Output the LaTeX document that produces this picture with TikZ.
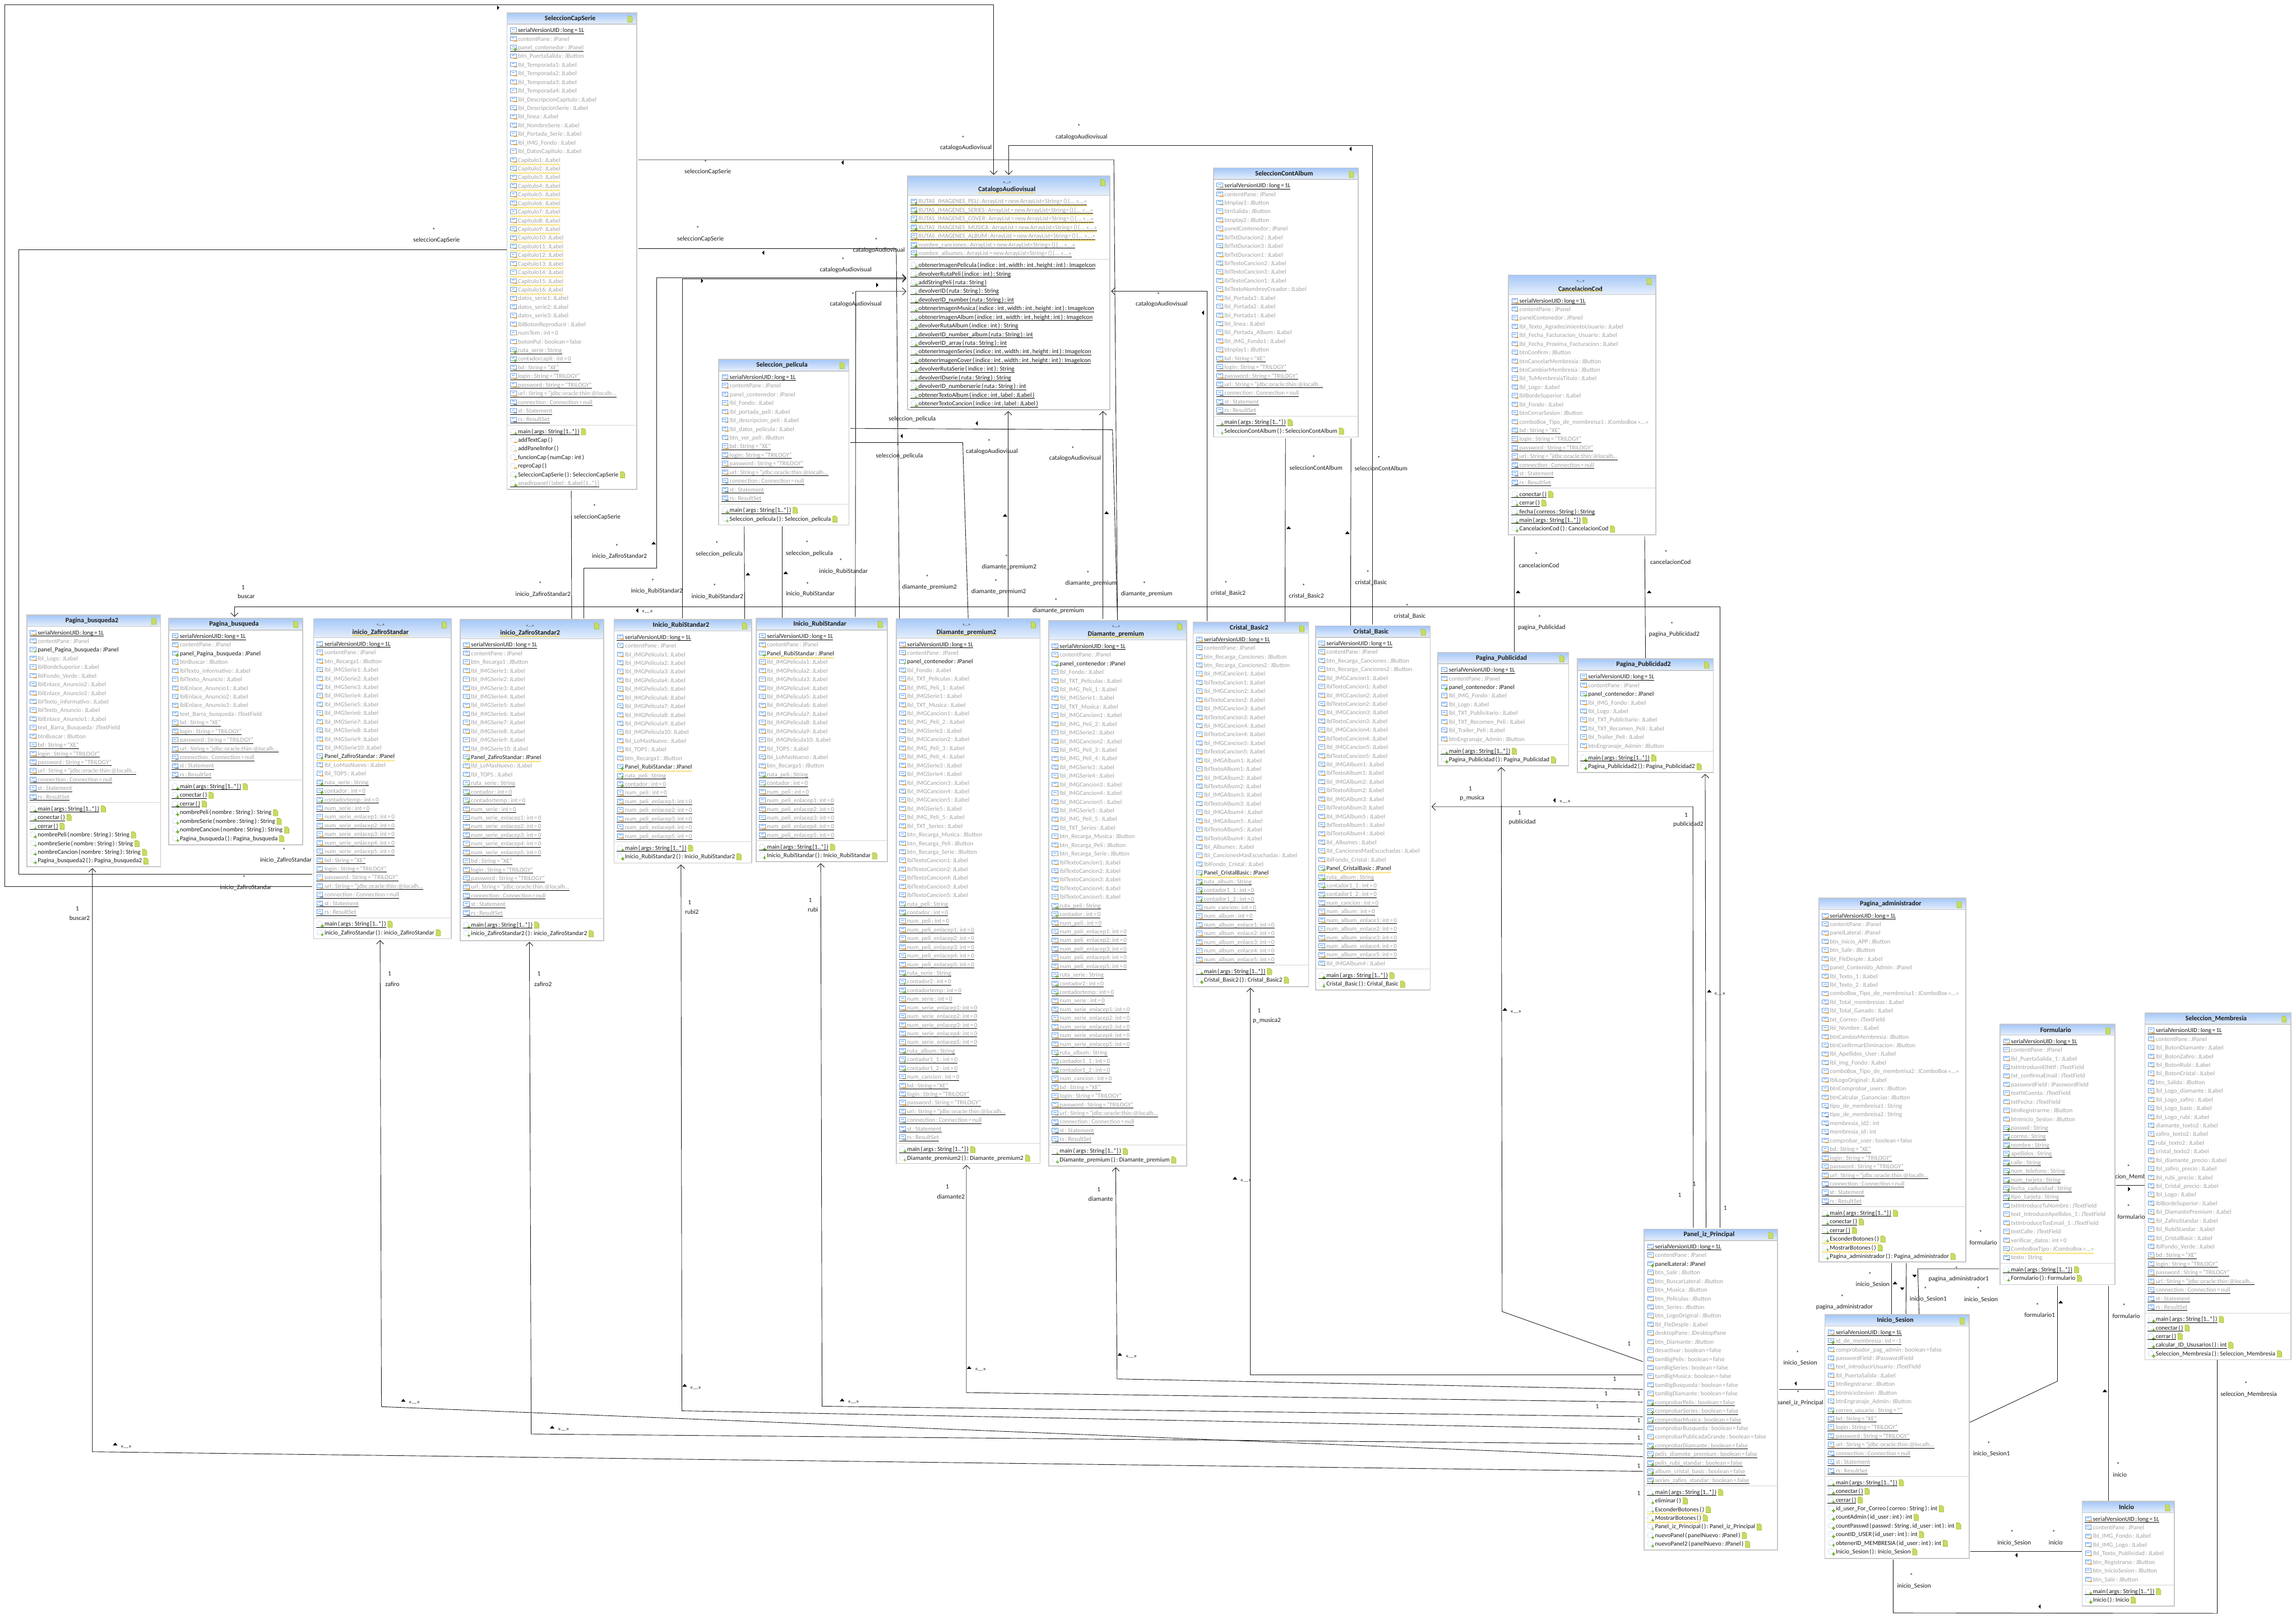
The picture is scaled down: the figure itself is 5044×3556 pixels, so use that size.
\documentclass[tikz,border=0pt]{standalone}
\usepackage{fontspec}
\setmainfont{Carlito}
\usetikzlibrary{arrows.meta,decorations.pathmorphing}
\catcode`\_=12
\definecolor{colg}{HTML}{A2A2A2}
\definecolor{colk}{HTML}{1A1A1A}
\definecolor{hdt}{HTML}{A6C8F8}
\definecolor{hdb}{HTML}{E6EFFB}
\definecolor{bord}{HTML}{C8C8C8}
\definecolor{icbl}{HTML}{5E9BE6}
\definecolor{icor}{HTML}{EFA030}
\definecolor{icgr}{HTML}{74B030}
\definecolor{docf}{HTML}{C8DC64}
\definecolor{docd}{HTML}{A0C030}
\definecolor{wavy}{HTML}{F5C400}
\pgfdeclarelayer{back}\pgfsetlayers{back,main}
\tikzset{
 ubox/.style={draw=bord,fill=white,line width=1pt,anchor=north west,inner sep=0pt,outer sep=0pt},
 rowt/.style={anchor=base west,inner sep=0pt,outer sep=0pt,font=\fontsize{6.8pt}{8pt}\selectfont},
 tit/.style={inner sep=0pt,font=\fontsize{7.4pt}{8pt}\selectfont\bfseries,text=colk},
 ster/.style={inner sep=0pt,font=\fontsize{5pt}{6pt}\selectfont,text=colk},
 ul/.style={draw=black,line width=.55pt},
 wv/.style={draw=wavy,line width=.4pt,decorate,decoration={snake,amplitude=.7pt,segment length=3pt}},
 sepl/.style={draw=bord!80,line width=.5pt},
 icb/.style={draw=icbl,line width=.4pt},
 labl/.style={inner sep=0pt,font=\fontsize{7pt}{8pt}\selectfont,text=colk},
 conn/.style={draw=colk,line width=.55pt,shorten <=1.5pt},
 arr/.style={-{Straight Barb[length=4pt,width=8pt,line width=.55pt]},shorten >=1.5pt},
 docs/.style={fill=docf,draw=docd,line width=.4pt}
}
\newcount\rowY \newcount\rowN \newcount\labN
\def\curL{0}\def\curR{0}
\newcommand\docicon[1]{\path[docs,shift={(#1)}] (4,-7)--(10,-7)--(14,-3)--(14,7)--(4,7)--cycle;}
\newcommand\iconm[2]{\draw[icb] (#1,#2-5) rectangle (#1+13,#2+4);\draw[icb] (#1+3,#2-2)--(#1+10,#2-2);\fill[icor] (#1+7,#2+4) rectangle (#1+15,#2+6);}
\newcommand\iconp[2]{\draw[icb] (#1,#2-5) rectangle (#1+13,#2+4);\draw[icb] (#1+3,#2-2)--(#1+10,#2-2);\fill[icgr] (#1+10,#2+1) rectangle (#1+12,#2+8);\fill[icgr] (#1+7,#2+3.5) rectangle (#1+15,#2+5.5);}
\newcommand\icont[2]{\draw[icb] (#1,#2-5) rectangle (#1+13,#2+4);\draw[icb] (#1+3,#2-2)--(#1+10,#2-2);\draw[draw=colk,line width=.35pt] (#1+7,#2+6)--(#1+10,#2+5)--(#1+12,#2+6)--(#1+15,#2+5);}
\newcommand\iconO[2]{\draw[icb,densely dotted] (#1+6,#2) circle [radius=3pt];\fill[icgr] (#1+11,#2+2) rectangle (#1+13,#2+9);\fill[icgr] (#1+8.5,#2+4.5) rectangle (#1+15.5,#2+6.5);}
\newcommand\iconQ[2]{\draw[icb,densely dotted] (#1+6,#2) circle [radius=3pt];\fill[icor] (#1+8,#2+4.5) rectangle (#1+15,#2+6.5);}
\def\decon{}
\def\decou{\draw[ul] (\xu,\yu)--(\nn.east |- 0,\yu);}
\def\decow{\draw[wv] (\xu,\yw)--(\nn.east |- 0,\yw);}
\def\decox{\decou\decow}
\newcommand\R[4]{%
 \global\advance\rowN 1\relax
 \edef\nn{r\the\rowN}%
 \edef\xt{\the\numexpr\curL+24\relax}\edef\xi{\the\numexpr\curL+7\relax}\edef\xu{\the\numexpr\curL+6\relax}%
 \edef\yc{\the\rowY}\edef\yb{\the\numexpr\rowY+5\relax}\edef\yu{\the\numexpr\rowY+8\relax}\edef\yw{\the\numexpr\rowY+10\relax}%
 \node[rowt,text=col#1] (\nn) at (\xt,\yb) {\spaceskip=.13em\relax #4};
 \csname icon#2\endcsname{\xi}{\yc}%
 \csname deco#3\endcsname
 \global\advance\rowY 19\relax}
\newcommand\Dc{\docicon{\nn.east}}
\newcommand\fa[1]{\R{g}{m}{n}{#1}}
\newcommand\fb[1]{\R{g}{m}{u}{#1}}
\newcommand\fc[1]{\R{g}{p}{u}{#1}}
\newcommand\fd[1]{\R{g}{p}{n}{#1}}
\newcommand\ftt[1]{\R{g}{t}{u}{#1}}
\newcommand\fn[1]{\R{g}{t}{n}{#1}}
\newcommand\fk[1]{\R{k}{p}{n}{#1}}
\newcommand\fw[1]{\R{k}{p}{w}{#1}}
\newcommand\fy[1]{\R{g}{m}{w}{#1}}
\newcommand\fz[1]{\R{g}{p}{x}{#1}}
\newcommand\fq[1]{\R{g}{m}{x}{#1}}
\newcommand\ok[1]{\R{k}{O}{u}{#1}\Dc}
\newcommand\on[1]{\R{k}{O}{n}{#1}\Dc}
\newcommand\ow[1]{\R{k}{O}{w}{#1}\Dc}
\newcommand\ou[1]{\R{k}{O}{u}{#1}}
\newcommand\ox[1]{\R{k}{Q}{n}{#1}}
\newcommand\oz[1]{\R{g}{O}{u}{#1}}
\newcommand\SV{\R{k}{m}{u}{serialVersionUID : long = 1L}}
\newcommand\CP{\fa{contentPane : JPanel}}
\newcommand\DB{\fb{bd : String = "XE"}\fb{login : String = "TRILOGY"}\fb{password : String = "TRILOGY"}\fb{url : String = "jdbc:oracle:thin:@localh...}\ftt{connection : Connection = null}\ftt{st : Statement}\ftt{rs : ResultSet}}
\newcommand\Sep{\edef\ys{\the\numexpr\rowY-6\relax}\draw[sepl] (\curL,\ys)--(\curR,\ys);\global\advance\rowY 7\relax}
\newcommand\Mn{\ok{main ( args : String [1..*] )}}
% name, L, T, R, B, H, title, stereotype flag
\newcommand\UC[8]{%
 \xdef\curL{#2}\xdef\curR{#4}\global\rowY=\numexpr#6+13\relax
 \node[ubox,minimum width={(#4-#2)*0.5pt},minimum height={(#5-#3)*0.5pt}] (#1) at (#2,#3) {};
 \shade[top color=hdt,bottom color=hdb] (#2+1,#3+1) rectangle (#4-1,#6);
 \draw[draw=bord,line width=1pt] (#2,#3) rectangle (#4,#5);
 \draw[draw=bord,line width=.9pt] (#2,#6)--(#4,#6);
 \docicon{#4-24,#3+14}
 \if#81\relax
  \node[ster] (#1st) at ({(#2+#4)/2-4},#3+14) {«...»};
  \node[tit] (#1tt) at ({(#2+#4)/2-4},#3+30) {#7};
  \draw[wv] (#1tt.south west)--(#1tt.south east);
 \else
  \node[tit] (#1tt) at ({(#2+#4)/2-4},{(#3+#6)/2}) {#7};
 \fi}
\newcommand\lab[3]{\global\advance\labN 1\relax\node[labl] (l\the\labN) at (#1,#2) {#3};}
\newcommand\trL[2]{\fill[black] (#1-3,#2)--(#1+2,#2-5)--(#1+2,#2+5)--cycle;}
\newcommand\trR[2]{\fill[black] (#1+3,#2)--(#1-2,#2-5)--(#1-2,#2+5)--cycle;}
\newcommand\trU[2]{\fill[black] (#1,#2-3)--(#1-5,#2+3)--(#1+5,#2+3)--cycle;}
\newcommand\trD[2]{\fill[black] (#1,#2+3)--(#1-5,#2-3)--(#1+5,#2-3)--cycle;}
\newcommand\SL[5]{\lab{#1}{#2}{*}\lab{#3}{#4}{#5}}
\newcommand\DiaRows[1]{\SV\CP\fk{panel_contenedor : JPanel}\fa{lbl_Fondo : JLabel}\fa{lbl_TXT_Peliculas : JLabel}\fa{lbl_IMG_Peli_1 : JLabel}\fa{lbl_IMGSerie1 : JLabel}\fa{lbl_TXT_Musica : JLabel}\fa{lbl_IMGCancion1 : JLabel}\fa{lbl_IMG_Peli_2 : JLabel}\fa{lbl_IMGSerie2 : JLabel}\fa{lbl_IMGCancion2 : JLabel}\fa{lbl_IMG_Peli_3 : JLabel}\fa{lbl_IMG_Peli_4 : JLabel}\fa{lbl_IMGSerie3 : JLabel}\fa{lbl_IMGSerie4 : JLabel}\fa{lbl_IMGCancion3 : JLabel}\fa{lbl_IMGCancion4 : JLabel}\fa{lbl_IMGCancion5 : JLabel}\fa{lbl_IMGSerie5 : JLabel}\fa{lbl_IMG_Peli_5 : JLabel}\fa{lbl_TXT_Series : JLabel}\fa{btn_Recarga_Musica : JButton}\fa{btn_Recarga_Peli : JButton}\fa{btn_Recarga_Serie : JButton}%
 \foreach \i in {#1}{\fa{lblTextoCancion\i : JLabel}}%
 \fc{ruta_peli : String}\fc{contador : int = 0}\fb{num_peli : int = 0}\foreach \i in {1,...,5}{\fb{num_peli_enlacep\i : int = 0}}%
 \fc{ruta_serie : String}\fc{contador2 : int = 0}\fc{contadortemp : int = 0}\fb{num_serie : int = 0}\foreach \i in {1,...,5}{\fb{num_serie_enlacep\i : int = 0}}%
 \fc{ruta_album : String}\fc{contador1_1 : int = 0}\fc{contador1_2 : int = 0}\fb{num_cancion : int = 0}\DB\Sep\Mn}
\newcommand\ZafRows{\SV\CP\fa{btn_Recarga1 : JButton}\foreach \i in {1,...,10}{\fa{lbl_IMGSerie\i : JLabel}}\fw{Panel_ZafiroStandar : JPanel}\fa{lbl_LoMasNuevo : JLabel}\fa{lbl_TOP5 : JLabel}\fc{ruta_serie : String}\fc{contador : int = 0}\fc{contadortemp : int = 0}\fb{num_serie : int = 0}\foreach \i in {1,...,5}{\fb{num_serie_enlacep\i : int = 0}}\DB\Sep\Mn}
\newcommand\PeliNums{\fc{ruta_peli : String}\fc{contador : int = 0}\fb{num_peli : int = 0}\foreach \i in {1,...,5}{\fb{num_peli_enlacep\i : int = 0}}\Sep\Mn}
\newcommand\CriHead{\SV\CP\fa{btn_Recarga_Canciones : JButton}\fa{btn_Recarga_Canciones2 : JButton}\foreach \i in {1,...,5}{\fa{lbl_IMGCancion\i : JLabel}\fa{lblTextoCancion\i : JLabel}}\foreach \i in {1,2,3}{\fa{lbl_IMGAlbum\i : JLabel}\fa{lblTextoAlbum\i : JLabel}}}
\newcommand\CriTail{\fa{lbl_IMGAlbum5 : JLabel}\fa{lblTextoAlbum5 : JLabel}\fa{lblTextoAlbum4 : JLabel}\fa{lbl_Albumes : JLabel}\fa{lbl_CancionesMasEscuchadas : JLabel}\fa{lblFondo_Cristal : JLabel}\fw{Panel_CristalBasic : JPanel}\fc{ruta_album : String}\fc{contador1_1 : int = 0}\fc{contador1_2 : int = 0}\fb{num_cancion : int = 0}\fb{num_album : int = 0}\foreach \i in {1,...,5}{\fb{num_album_enlace\i : int = 0}}}
\newcommand\PubRows{\SV\CP\fk{panel_contenedor : JPanel}\fa{lbl_IMG_Fondo : JLabel}\fa{lbl_Logo : JLabel}\fa{lbl_TXT_Publicitario : JLabel}\fa{lbl_TXT_Recomen_Peli : JLabel}\fa{lbl_Trailer_Peli : JLabel}\fa{btnEngranaje_Admin : JButton}\Sep\Mn}
\begin{document}
\begin{tikzpicture}[x=0.5pt,y=-0.5pt]
\useasboundingbox (0,0) rectangle (5044,3556);

\UC{cap}{1114}{28}{1399}{1075}{53}{SeleccionCapSerie}{0}
\SV\CP\fc{panel_contenedor : JPanel}\fa{btn_PuertaSalida : JButton}\foreach \i in {1,...,4}{\fa{lbl_Temporada\i : JLabel}}\fa{lbl_DescripcionCapitulo : JLabel}\fa{lbl_DescripcionSerie : JLabel}\fa{lbl_linea : JLabel}\fa{lbl_NombreSerie : JLabel}\fa{lbl_Portada_Serie : JLabel}\fa{lbl_IMG_Fondo : JLabel}\fa{lbl_DatosCapitulo : JLabel}\foreach \i in {1,...,16}{\fy{Capitulo\i : JLabel}}\foreach \i in {1,2,3}{\fa{datos_serie\i : JLabel}}\fa{lblBotonReproducir : JLabel}\fa{numTem : int = 0}\fa{botonPul : boolean = false}\fc{ruta_serie : String}\fc{contadorcapit : int = 0}\DB\Sep\Mn\ox{addTextCap ( )}\ox{addPanelInfor ( )}\ox{funcionCap ( numCap : int )}\ox{reproCap ( )}\on{SeleccionCapSerie ( ) : SeleccionCapSerie}\oz{anadirpanel ( label : JLabel [1..*] )}

\UC{cat}{1994}{387}{2438}{900}{429}{CatalogoAudiovisual}{1}
\fz{RUTAS_IMAGENES_PELI : ArrayList = new ArrayList<String> () \{... «...»}\fz{RUTAS_IMAGENES_SERIES : ArrayList = new ArrayList<String> () \{... «...»}\fz{RUTAS_IMAGENES_COVER : ArrayList = new ArrayList<String> () \{... «...»}\fz{RUTAS_IMAGENES_MUSICA : ArrayList = new ArrayList<String> () \{... «...»}\fq{RUTAS_IMAGENES_ALBUM : ArrayList = new ArrayList<String> () \{... «...»}\fc{nombre_canciones : ArrayList = new ArrayList<String> () \{... «...»}\fc{nombre_albumes : ArrayList = new ArrayList<String> () \{... «...»}\Sep
\ou{obtenerImagenPelicula ( indice : int , width : int , height : int ) : ImageIcon}\ou{devolverRutaPeli ( indice : int ) : String}\ou{addStringPeli ( ruta : String )}\ou{devolverID ( ruta : String ) : String}\ou{devolverID_number ( ruta : String ) : int}\ou{obtenerImagenMusica ( indice : int , width : int , height : int ) : ImageIcon}\ou{obtenerImagenAlbum ( indice : int , width : int , height : int ) : ImageIcon}\ou{devolverRutaAlbum ( indice : int ) : String}\ou{devolverID_number_album ( ruta : String ) : int}\ou{devolverID_array ( ruta : String ) : int}\ou{obtenerImagenSeries ( indice : int , width : int , height : int ) : ImageIcon}\ou{obtenerImagenCover ( indice : int , width : int , height : int ) : ImageIcon}\ou{devolverRutaSerie ( indice : int ) : String}\ou{devolverIDserie ( ruta : String ) : String}\ou{devolverID_numberserie ( ruta : String ) : int}\ou{obtenerTextoAlbum ( indice : int , label : JLabel )}\ou{obtenerTextoCancion ( indice : int , label : JLabel )}

\UC{peli}{1579}{789}{1865}{1153}{815}{Seleccion_pelicula}{0}
\SV\CP\fa{panel_contenedor : JPanel}\fa{lbl_Fondo : JLabel}\fa{lbl_portada_peli : JLabel}\fa{lbl_descripcion_peli : JLabel}\fa{lbl_datos_pelicula : JLabel}\fa{btn_ver_peli : JButton}\DB\Sep\Mn\on{Seleccion_pelicula ( ) : Seleccion_pelicula}

\UC{album}{2666}{369}{2984}{960}{394}{SeleccionContAlbum}{0}
\SV\CP\fa{btnplay3 : JButton}\fa{btnSalida : JButton}\fa{btnplay2 : JButton}\fa{panelContenedor : JPanel}\fa{lblTxtDuracion2 : JLabel}\fa{lblTxtDuracion3 : JLabel}\fa{lblTxtDuracion1 : JLabel}\fa{lblTextoCancion2 : JLabel}\fa{lblTextoCancion3 : JLabel}\fa{lblTextoCancion1 : JLabel}\fa{lblTextoNombreyCreador : JLabel}\fa{lbl_Portada3 : JLabel}\fa{lbl_Portada2 : JLabel}\fa{lbl_Portada1 : JLabel}\fa{lbl_linea : JLabel}\fa{lbl_Portada_Album : JLabel}\fa{lbl_IMG_Fondo1 : JLabel}\fa{btnplay1 : JButton}\DB\Sep\Mn\on{SeleccionContAlbum ( ) : SeleccionContAlbum}

\UC{canc}{3314}{604}{3638}{1175}{647}{CancelacionCod}{1}
\SV\CP\fa{panelContenedor : JPanel}\fa{lbl_Texto_AgradecimientoUsuario : JLabel}\fa{lbl_Fecha_Facturacion_Usuario : JLabel}\fa{lbl_Fecha_Proxima_Facturacion : JLabel}\fa{btnConfirm : JButton}\fa{btnCancelarMembresía : JButton}\fa{btnCambiarMembresía : JButton}\fa{lbl_TuMembresiaTitulo : JLabel}\fa{lbl_Logo : JLabel}\fa{lblBordeSuperior : JLabel}\fa{lbl_Fondo : JLabel}\fa{btnCerrarSesion : JButton}\fa{comboBox_Tipo_de_membreisa1 : JComboBox «...»}\DB\Sep\ok{conectar ( )}\ok{cerrar ( )}\ou{fecha ( correos : String ) : String}\Mn\on{CancelacionCod ( ) : CancelacionCod}

\UC{bustwo}{59}{1351}{353}{1904}{1376}{Pagina_busqueda2}{0}
\SV\CP\fk{panel_Pagina_busqueda : JPanel}\fa{lbl_Logo : JLabel}\fa{lblBordeSuperior : JLabel}\fa{lblFondo_Verde : JLabel}\fa{lblEnlace_Anuncio2 : JLabel}\fa{lblEnlace_Anuncio3 : JLabel}\fa{lblTexto_informativo : JLabel}\fa{lblTexto_Anuncio : JLabel}\fa{lblEnlace_Anuncio1 : JLabel}\fa{text_Barra_Busqueda : JTextField}\fa{btnBuscar : JButton}\DB\Sep\Mn\ok{conectar ( )}\ok{cerrar ( )}\on{nombrePeli ( nombre : String ) : String}\on{nombreSerie ( nombre : String ) : String}\on{nombreCancion ( nombre : String ) : String}\on{Pagina_busqueda2 ( ) : Pagina_busqueda2}

\UC{bus}{371}{1358}{665}{1856}{1384}{Pagina_busqueda}{0}
\SV\CP\fk{panel_Pagina_busqueda : JPanel}\fa{btnBuscar : JButton}\fa{lblTexto_informativo : JLabel}\fa{lblTexto_Anuncio : JLabel}\fa{lblEnlace_Anuncio1 : JLabel}\fa{lblEnlace_Anuncio2 : JLabel}\fa{lblEnlace_Anuncio3 : JLabel}\fa{text_Barra_busqueda : JTextField}\DB\Sep\Mn\ok{conectar ( )}\ok{cerrar ( )}\on{nombrePeli ( nombre : String ) : String}\on{nombreSerie ( nombre : String ) : String}\on{nombreCancion ( nombre : String ) : String}\on{Pagina_busqueda ( ) : Pagina_busqueda}

\UC{zaf}{689}{1359}{991}{2062}{1401}{inicio_ZafiroStandar}{1}
\ZafRows\on{inicio_ZafiroStandar ( ) : inicio_ZafiroStandar}

\UC{zaftwo}{1011}{1361}{1326}{2066}{1403}{inicio_ZafiroStandar2}{1}
\ZafRows\on{inicio_ZafiroStandar2 ( ) : inicio_ZafiroStandar2}

\UC{rubtwo}{1349}{1361}{1651}{1896}{1386}{Inicio_RubiStandar2}{0}
\SV\CP\foreach \i in {1,...,10}{\fa{lbl_IMGPelicula\i : JLabel}}\fa{lbl_LoMasNuevo : JLabel}\fa{lbl_TOP5 : JLabel}\fa{btn_Recarga1 : JButton}\fw{Panel_RubiStandar : JPanel}\PeliNums\on{Inicio_RubiStandar2 ( ) : Inicio_RubiStandar2}

\UC{rub}{1661}{1358}{1949}{1893}{1384}{Inicio_RubiStandar}{0}
\SV\CP\fw{Panel_RubiStandar : JPanel}\foreach \i in {1,...,10}{\fa{lbl_IMGPelicula\i : JLabel}}\fa{lbl_TOP5 : JLabel}\fa{lbl_LoMasNuevo : JLabel}\fa{btn_Recarga1 : JButton}\PeliNums\on{Inicio_RubiStandar ( ) : Inicio_RubiStandar}

\UC{diatwo}{1969}{1359}{2285}{2556}{1402}{Diamante_premium2}{1}
\DiaRows{1,2,4,3,5}\on{Diamante_premium2 ( ) : Diamante_premium2}

\UC{dia}{2304}{1363}{2607}{2561}{1406}{Diamante_premium}{1}
\DiaRows{1,2,3,4,5}\on{Diamante_premium ( ) : Diamante_premium}

\UC{critwo}{2621}{1367}{2875}{2167}{1391}{Cristal_Basic2}{0}
\CriHead\fa{lbl_IMGAlbum4 : JLabel}\CriTail\Sep\Mn\on{Cristal_Basic2 ( ) : Cristal_Basic2}

\UC{cri}{2890}{1375}{3142}{2175}{1400}{Cristal_Basic}{0}
\CriHead\CriTail\fa{lbl_IMGAlbum4 : JLabel}\Sep\Mn\on{Cristal_Basic ( ) : Cristal_Basic}

\UC{pub}{3159}{1433}{3446}{1682}{1458}{Pagina_Publicidad}{0}
\PubRows\on{Pagina_Publicidad ( ) : Pagina_Publicidad}

\UC{pubtwo}{3465}{1447}{3764}{1697}{1473}{Pagina_Publicidad2}{0}
\PubRows\on{Pagina_Publicidad2 ( ) : Pagina_Publicidad2}

\UC{admin}{3996}{1973}{4319}{2772}{1998}{Pagina_administrador}{0}
\SV\CP\fa{panelLateral : JPanel}\fa{btn_Inicio_APP : JButton}\fa{btn_Salir : JButton}\fa{lbl_FleDesple : JLabel}\fa{panel_Contenido_Admin : JPanel}\fa{lbl_Texto_1 : JLabel}\fa{lbl_Texto_2 : JLabel}\fa{comboBox_Tipo_de_membreisa1 : JComboBox «...»}\fa{lbl_Total_membresias : JLabel}\fa{lbl_Total_Ganado : JLabel}\fa{txt_Correo : JTextField}\fa{lbl_Nombre : JLabel}\fa{btnCambioMembresia : JButton}\fa{btnConfirmarEliminacion : JButton}\fa{lbl_Apellidos_User : JLabel}\fa{lbl_Img_Fondo : JLabel}\fa{comboBox_Tipo_de_membreisa2 : JComboBox «...»}\fa{lblLogoOriginal : JLabel}\fa{btnComprobar_users : JButton}\fa{btnCalcular_Ganancias : JButton}\fn{tipo_de_membreisa1 : String}\fn{tipo_de_membreisa2 : String}\fn{membresia_id2 : int}\fn{membresia_id : int}\fa{comprobar_user : boolean = false}\DB\Sep\Mn\ok{conectar ( )}\ok{cerrar ( )}\ow{EsconderBotones ( )}\ow{MostrarBotones ( )}\on{Pagina_administrador ( ) : Pagina_administrador}

\UC{form}{4394}{2250}{4646}{2822}{2274}{Formulario}{0}
\SV\CP\fa{lbl_PuertaSalida_1 : JLabel}\fa{txtIntroduceElNtlf : JTextField}\fa{txt_confirmaEmail : JTextField}\fa{passwordField : JPasswordField}\fa{textNCuenta : JTextField}\fa{txtFecha : JTextField}\fa{btnRegistrarme : JButton}\fa{btnInicio_Sesion : JButton}\fc{passwd : String}\fc{correo : String}\fc{nombre : String}\fc{apellidos : String}\fc{calle : String}\fc{num_telefono : String}\fc{num_tarjeta : String}\fc{fecha_caducidad : String}\fc{tipo_tarjeta : String}\fa{txtIntroduceTuNombre : JTextField}\fa{text_IntroduceApellidos_1 : JTextField}\fa{txtIntroduceTusEmail_1 : JTextField}\fa{textCalle : JTextField}\fa{verificar_datos : int = 0}\fy{ComboBoxTipo : JComboBox «...»}\fn{texto : String}\Sep\Mn\on{Formulario ( ) : Formulario}

\UC{memb}{4712}{2225}{5033}{2987}{2250}{Seleccion_Membresia}{0}
\SV\CP\fa{lbl_BotonDiamante : JLabel}\fa{lbl_BotonZafiro : JLabel}\fa{lbl_BotonRubi : JLabel}\fa{lbl_BotonCristal : JLabel}\fa{btn_Salida : JButton}\fa{lbl_Logo_diamante : JLabel}\fa{lbl_Logo_zafiro : JLabel}\fa{lbl_Logo_basic : JLabel}\fa{lbl_Logo_rubi : JLabel}\fa{diamante_texto2 : JLabel}\fa{zafiro_texto2 : JLabel}\fa{rubi_texto2 : JLabel}\fa{cristal_texto2 : JLabel}\fa{lbl_diamante_precio : JLabel}\fa{lbl_zafiro_precio : JLabel}\fa{lbl_rubi_precio : JLabel}\fa{lbl_Cristal_precio : JLabel}\fa{lbl_Logo : JLabel}\fa{lblBordeSuperior : JLabel}\fa{lbl_DiamantePremium : JLabel}\fa{lbl_ZafiroStandar : JLabel}\fa{lbl_RubiStandar : JLabel}\fa{lbl_CristalBasic : JLabel}\fa{lblFondo_Verde : JLabel}\DB\Sep\Mn\ok{conectar ( )}\ok{cerrar ( )}\ok{calcular_ID_Ususarios ( ) : int}\on{Seleccion_Membresia ( ) : Seleccion_Membresia}

\UC{panel}{3612}{2700}{3905}{3405}{2725}{Panel_iz_Principal}{0}
\SV\CP\fk{panelLateral : JPanel}\fa{btn_Salir : JButton}\fa{btn_BuscarLateral : JButton}\fa{btn_Musica : JButton}\fa{btn_Peliculas : JButton}\fa{btn_Series : JButton}\fa{btn_LogoOriginal : JButton}\fa{lbl_FleDesple : JLabel}\fa{desktopPane : JDesktopPane}\fa{btn_Diamante : JButton}\fa{desactivar : boolean = false}\fa{tamBigPelis : boolean = false}\fa{tamBigSeries : boolean = false}\fa{tamBigMusica : boolean = false}\fa{tamBigBusqueda : boolean = false}\fa{tamBigDiamante : boolean = false}\fc{comprobarPelis : boolean = false}\fc{comprobarSeries : boolean = false}\fc{comprobarMusica : boolean = false}\fa{comprobarBusqueda : boolean = false}\fa{comprobarPublicadaGrande : boolean = false}\fc{comprobarDiamante : boolean = false}\fc{pelis_diamnte_premium : boolean = false}\fc{pelis_rubi_standar : boolean = false}\fc{album_cristal_basic : boolean = false}\fc{series_zafiro_standar : boolean = false}\Sep\Mn\on{eliminar ( )}\ow{EsconderBotones ( )}\ow{MostrarBotones ( )}\on{Panel_iz_Principal ( ) : Panel_iz_Principal}\on{nuevoPanel ( panelNuevo : JPanel )}\on{nuevoPanel2 ( panelNuevo : JPanel )}

\UC{sesion}{4009}{2888}{4326}{3423}{2913}{Inicio_Sesion}{0}
\SV\fc{id_de_membresia : int = -1}\fa{comprobador_pag_admin : boolean = false}\fa{passwordField : JPasswordField}\fa{text_introducirUsuario : JTextField}\fa{lbl_PuertaSalida : JLabel}\fa{btnRegistrarse : JButton}\fa{btnInicioSesion : JButton}\fa{btnEngranaje_Admin : JButton}\fc{correo_usuario : String = ""}\DB\Sep\Mn\ok{conectar ( )}\ok{cerrar ( )}\on{id_user_For_Correo ( correo : String ) : int}\on{countAdmin ( id_user : int ) : int}\on{countPasswd ( passwd : String , id_user : int ) : int}\on{countID_USER ( id_user : int ) : int}\on{obtenerID_MEMBRESIA ( id_user : int ) : int}\on{Inicio_Sesion ( ) : Inicio_Sesion}

\UC{ini}{4574}{3298}{4777}{3528}{3323}{Inicio}{0}
\SV\CP\fa{lbl_IMG_Fondo : JLabel}\fa{lbl_IMG_Logo : JLabel}\fa{lbl_Texto_Publicidad : JLabel}\fa{btn_Registrarse : JButton}\fa{btn_InicioSesion : JButton}\fa{btn_Salir : JButton}\Sep\Mn\on{Inicio ( ) : Inicio}

\begin{pgfonlayer}{back}
\fill[white] (0,0) rectangle (5044,3556);
% connectors
\draw[conn,arr] (zaf.west |- 0,1948)--(11,1948)--(11,10)--(2183,10)--(cat.north -| 2183,0);
\draw[conn] (zaf.west |- 0,1920)--(41,1920)--(41,549)--(cap.west |- 0,549);
\draw[conn] (cap.east |- 0,351)--(2447,351)--(dia.north -| 2455,0);
\draw[conn] (cap.east |- 0,546)--(1969,546)--(diatwo.north -| 1976,0);
\draw[conn] (cap.south -| 1255,0)--(zaftwo.north -| 1256,0);
\draw[conn,arr] (rubtwo.north -| 1499,0)--(1499,612)--(cat.west |- 0,612);
\draw[conn,arr] (zaftwo.north -| 1283,0)--(1283,1248)--(1443,1248)--(1443,610)--(cat.west |- 0,610);
\draw[conn,arr] (rub.north -| 1879,0)--(1880,640)--(cat.west |- 0,640);
\draw[conn] (peli.south -| 1635,0)--(rubtwo.north -| 1636,0);
\draw[conn] (peli.south -| 1719,0)--(rub.north -| 1719,0);
\draw[conn] (peli.east |- 0,941)--(2444,944)--(dia.north -| 2455,0);
\draw[conn] (peli.east |- 0,972)--(2115,972)--(diatwo.north -| 2127,0);
\draw[conn,arr] (diatwo.north -| 2215,0)--(cat.south -| 2215,0);
\draw[conn,arr] (dia.north -| 2423,0)--(cat.south -| 2423,0);
\draw[conn,arr] (critwo.north -| 2652,0)--(2652,640)--(cat.east |- 0,640);
\draw[conn,arr] (cri.north -| 3015,0)--(3015,320)--(2216,320)--(cat.north -| 2216,0);
\draw[conn] (album.south -| 2824,0)--(critwo.north -| 2823,0);
\draw[conn] (album.south -| 2968,0)--(cri.north -| 2967,0);
\draw[conn] (canc.south -| 3327,0)--(pub.north -| 3327,0);
\draw[conn] (canc.south -| 3613,0)--(pubtwo.north -| 3615,0);
\draw[conn,arr] (panel.north -| 3779,0)--(3779,1333)--(515,1333)--(bus.north -| 515,0);
\draw[conn,arr] (panel.north -| 3720,0)--(3719,1772)--(cri.east |- 0,1772);
\draw[conn,arr] (panel.north -| 3748,0)--(pubtwo.south -| 3746,0);
\draw[conn,arr] (panel.west |- 0,2992)--(3300,2881)--(pub.south -| 3298,0);
\draw[conn,arr] (panel.west |- 0,3020)--(2747,3020)--(critwo.south -| 2747,0);
\draw[conn,arr] (panel.west |- 0,3052)--(2454,3029)--(dia.south -| 2451,0);
\draw[conn,arr] (panel.west |- 0,3080)--(2123,3059)--(diatwo.south -| 2123,0);
\draw[conn,arr] (panel.west |- 0,3112)--(1806,3089)--(rub.south -| 1803,0);
\draw[conn,arr] (panel.west |- 0,3140)--(1498,3099)--(rubtwo.south -| 1496,0);
\draw[conn,arr] (panel.west |- 0,3172)--(1167,3150)--(zaftwo.south -| 1163,0);
\draw[conn,arr] (panel.west |- 0,3200)--(838,3090)--(zaf.south -| 835,0);
\draw[conn,arr] (panel.west |- 0,3232)--(203,3189)--(bustwo.south -| 203,0);
\draw[conn] (panel.east |- 0,3052)--(sesion.west |- 0,3052);
\draw[conn] (admin.south -| 4155,0)--(sesion.north -| 4155,0);
\draw[conn] (admin.south -| 4188,0)--(sesion.north -| 4187,0);
\draw[conn] (form.west |- 0,2787)--(4213,2787)--(sesion.north -| 4216,0);
\draw[conn] (form.south -| 4520,0)--(4520,3034)--(sesion.east |- 0,3125);
\draw[conn] (form.south -| 4632,0)--(ini.north -| 4632,0);
\draw[conn] (form.east |- 0,2604)--(memb.west |- 0,2604);
\draw[conn] (sesion.south -| 4159,0)--(4159,3543)--(4871,3544)--(memb.south -| 4871,0);
\draw[conn] (sesion.east |- 0,3408)--(ini.west |- 0,3408);
% direction markers
\trR{1094}{17}\trL{2967}{327}\trL{1851}{357}\trL{1677}{555}\trR{1542}{617}\trR{1927}{626}\trU{1436}{1193}\trL{2146}{930}\trL{1981}{958}\trL{2643}{687}
\trU{1643}{1261}\trU{1726}{1258}\trU{2208}{1132}\trU{2431}{1126}\trU{2831}{1159}\trU{2960}{1170}\trU{3335}{1300}\trU{3623}{1300}
\trL{1400}{1341}\trL{3415}{1758}\trU{3755}{2177}\trU{3306}{2217}\trU{2713}{2588}
\trU{253}{3172}\trU{886}{3076}\trU{1213}{3135}\trU{1504}{3043}\trU{1850}{3075}\trU{2129}{3004}\trU{2460}{2975}
\trL{3945}{3039}\trU{4163}{2818}\trD{4179}{2831}\trD{4206}{2803}\trU{4527}{2860}\trU{4624}{3055}\trR{4677}{2612}\trL{4430}{3416}\trL{4481}{3529}
% stereotype labels
\lab{1422}{1344}{«...»}\lab{3438}{1761}{«...»}\lab{3778}{2183}{«...»}\lab{3330}{2223}{«...»}\lab{2737}{2593}{«...»}
\lab{277}{3178}{«...»}\lab{910}{3081}{«...»}\lab{1238}{3140}{«...»}\lab{1528}{3049}{«...»}\lab{1875}{3080}{«...»}\lab{2154}{3009}{«...»}\lab{2485}{2980}{«...»}
% role labels
\SL{2116}{303}{2122}{325}{catalogoAudiovisual}
\SL{2370}{278}{2376}{301}{catalogoAudiovisual}
\SL{1550}{356}{1555}{378}{seleccionCapSerie}
\SL{1533}{502}{1539}{525}{seleccionCapSerie}
\SL{1925}{528}{1931}{550}{catalogoAudiovisual}
\SL{1852}{571}{1858}{593}{catalogoAudiovisual}
\SL{1874}{647}{1880}{668}{catalogoAudiovisual}
\SL{2545}{647}{2552}{668}{catalogoAudiovisual}
\SL{2173}{970}{2179}{992}{catalogoAudiovisual}
\SL{2357}{986}{2362}{1007}{catalogoAudiovisual}
\SL{1998}{899}{2004}{921}{seleccion_pelicula}
\SL{1972}{980}{1976}{1002}{seleccion_pelicula}
\SL{1575}{1194}{1580}{1217}{seleccion_pelicula}
\SL{1773}{1193}{1778}{1216}{seleccion_pelicula}
\SL{1847}{1232}{1853}{1255}{inicio_RubiStandar}
\SL{1570}{1288}{1576}{1311}{inicio_RubiStandar2}
\SL{1774}{1284}{1780}{1305}{inicio_RubiStandar}
\SL{1434}{1276}{1443}{1298}{inicio_RubiStandar2}
\SL{2037}{1268}{2042}{1290}{diamante_premium2}
\SL{2211}{1223}{2217}{1246}{diamante_premium2}
\SL{2188}{1277}{2194}{1300}{diamante_premium2}
\SL{2390}{1259}{2397}{1281}{diamante_premium}
\SL{2514}{1282}{2519}{1305}{diamante_premium}
\SL{2320}{1319}{2325}{1342}{diamante_premium}
\SL{2693}{1281}{2698}{1303}{cristal_Basic2}
\SL{2864}{1288}{2870}{1310}{cristal_Basic2}
\SL{3005}{1258}{3012}{1280}{cristal_Basic}
\SL{3091}{1332}{3097}{1354}{cristal_Basic}
\SL{2886}{1006}{2891}{1028}{seleccionContAlbum}
\SL{3029}{1007}{3034}{1029}{seleccionContAlbum}
\SL{3382}{1356}{3387}{1379}{pagina_Publicidad}
\SL{3673}{1371}{3678}{1394}{pagina_Publicidad2}
\SL{3375}{1219}{3381}{1242}{cancelacionCod}
\SL{3660}{1213}{3670}{1235}{cancelacionCod}
\SL{1306}{1113}{1312}{1136}{seleccionCapSerie}
\SL{1355}{1200}{1361}{1222}{inicio_ZafiroStandar2}
\SL{1187}{1283}{1193}{1306}{inicio_ZafiroStandar2}
\SL{953}{505}{959}{528}{seleccionCapSerie}
\SL{624}{1867}{628}{1890}{inicio_ZafiroStandar}
\SL{536}{1928}{540}{1950}{inicio_ZafiroStandar}
\SL{3949}{2972}{3955}{2994}{inicio_Sesion}
\SL{3950}{3060}{3954}{3082}{panel_iz_Principal}
\SL{4298}{2787}{4303}{2810}{pagina_administrador1}
\SL{4230}{2832}{4236}{2854}{inicio_Sesion1}
\SL{4108}{2800}{4114}{2822}{inicio_Sesion}
\SL{4047}{2849}{4052}{2871}{pagina_administrador}
\SL{4346}{2832}{4352}{2855}{inicio_Sesion}
\SL{4351}{2707}{4357}{2730}{formulario}
\SL{4369}{3171}{4375}{3193}{inicio_Sesion1}
\SL{4476}{2867}{4481}{2889}{formulario1}
\SL{4653}{3217}{4657}{3239}{inicio}
\SL{4666}{2869}{4671}{2891}{formulario}
\SL{4676}{2563}{4680}{2585}{seleccion_Membresia}
\SL{4676}{2651}{4682}{2673}{formulario}
\SL{4934}{3040}{4940}{3063}{seleccion_Membresia}
\SL{4420}{3366}{4425}{3389}{inicio_Sesion}
\SL{4512}{3366}{4516}{3389}{inicio}
\SL{4199}{3461}{4205}{3484}{inicio_Sesion}
% one-multiplicities
\lab{534}{1290}{1}\lab{541}{1310}{buscar}
\lab{170}{1996}{1}\lab{175}{2017}{buscar2}
\lab{856}{2139}{1}\lab{862}{2162}{zafiro}
\lab{1184}{2139}{1}\lab{1193}{2162}{zafiro2}
\lab{1515}{1983}{1}\lab{1520}{2003}{rubi2}
\lab{1780}{1978}{1}\lab{1786}{1998}{rubi}
\lab{2081}{2607}{1}\lab{2089}{2628}{diamante2}
\lab{2414}{2613}{1}\lab{2418}{2633}{diamante}
\lab{2766}{2220}{1}\lab{2783}{2242}{p_musica2}
\lab{3230}{1732}{1}\lab{3234}{1753}{p_musica}
\lab{3338}{1785}{1}\lab{3344}{1806}{publicidad}
\lab{3704}{1790}{1}\lab{3709}{1811}{publicidad2}
\lab{3579}{2952}{1}\lab{3547}{3029}{1}\lab{3600}{3061}{1}\lab{3528}{3061}{1}\lab{3509}{3089}{1}\lab{3600}{3120}{1}\lab{3600}{3159}{1}\lab{3600}{3220}{1}\lab{3600}{3280}{1}
\lab{3722}{2600}{1}\lab{3790}{2654}{1}\lab{3690}{2625}{1}
\end{pgfonlayer}
\end{tikzpicture}
\end{document}
